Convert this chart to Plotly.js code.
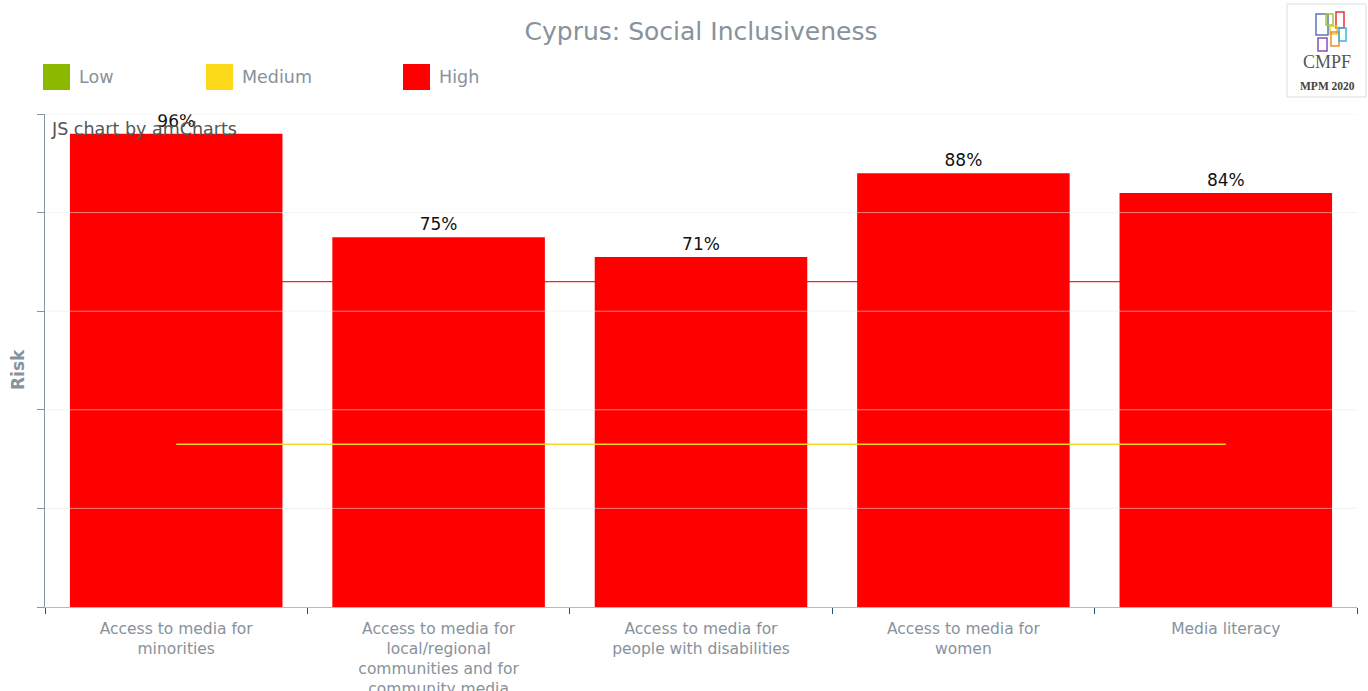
<!DOCTYPE html>
<html>
<head>
<meta charset="utf-8">
<script src="https://cdn.plot.ly/plotly-3.0.1.min.js"></script>
<style>html,body{margin:0;padding:0;background:#fff;}#chart{width:1368px;height:691px;}</style>
</head>
<body>
<div id="chart"></div>
<script>
// ---- data ----
const categories = [
  "Access to media for<br>minorities",
  "Access to media for<br>local/regional<br>communities and for<br>community media",
  "Access to media for<br>people with disabilities",
  "Access to media for<br>women",
  "Media literacy"
];
const values = [96, 75, 71, 88, 84];
const mediumThreshold = 33;
const highThreshold = 66;
const legendLabels = ["Low", "Medium", "High"];
const gridValues = [20, 40, 60, 80, 100];

// ---- styling helpers ----
const W = 1368, H = 691;
const L = 45, R = 1357, T = 114, B = 607;
const px = x => (x - L) / (R - L);
const py = y => (B - y) / (B - T);
const legendColors = ["#8cb800", "#fcda1a", "#ff0000"];
const legendX = [43, 206, 403];
const gray = "#87929c";
const font = "DejaVu Sans, Verdana, sans-serif";

const traces = [
  {
    type: "bar",
    x: categories,
    y: values,
    marker: {color: "#ff0000", line: {width: 0}},
    text: values.map(v => v + "%"),
    textposition: "outside",
    textfont: {family: font, size: 17, color: "#111"},
    cliponaxis: false,
    hoverinfo: "x+y",
    showlegend: false
  },
  {
    type: "scatter",
    mode: "lines",
    x: categories,
    y: categories.map(() => mediumThreshold),
    line: {color: "#f6d81f", width: 1.5},
    hoverinfo: "skip",
    showlegend: false
  }
];

const shapes = [];
// red threshold line behind bars
shapes.push({type: "line", layer: "below", xref: "x", yref: "y",
  x0: 0, x1: categories.length - 1, y0: highThreshold, y1: highThreshold,
  line: {color: "#ff2020", width: 1.2}});
// grid lines drawn over bars
gridValues.forEach(v => shapes.push({type: "line", layer: "above", xref: "paper", yref: "y",
  x0: 0, x1: 1, y0: v, y1: v, line: {color: "rgba(232,232,232,0.55)", width: 1}}));
// legend squares
legendLabels.forEach((lab, i) => shapes.push({type: "rect", xref: "paper", yref: "paper",
  x0: px(legendX[i]), x1: px(legendX[i] + 27), y0: py(90), y1: py(64),
  fillcolor: legendColors[i], line: {width: 0}}));
// logo box
shapes.push({type: "rect", xref: "paper", yref: "paper",
  x0: px(1287), x1: px(1366), y0: py(97), y1: py(4),
  fillcolor: "#ffffff", line: {color: "#dddddd", width: 1}});
const logoBits = [
  [1316, 1328, 14, 35, "#5a78b0"],
  [1326, 1333, 14, 25, "#9ccc40"],
  [1336, 1344, 12, 28, "#e8303a"],
  [1330, 1337, 26, 34, "#f2c81a"],
  [1318, 1327, 38, 51, "#8a4cc0"],
  [1331, 1339, 32, 46, "#f08a30"],
  [1339, 1346, 28, 41, "#30b8e8"]
];
logoBits.forEach(b => shapes.push({type: "rect", xref: "paper", yref: "paper",
  x0: px(b[0]), x1: px(b[1]), y0: py(b[3]), y1: py(b[2]),
  fillcolor: "rgba(0,0,0,0)", line: {color: b[4], width: 1.5}}));

const annotations = [];
legendLabels.forEach((lab, i) => annotations.push({xref: "paper", yref: "paper",
  x: px(legendX[i] + 34), y: py(77), xanchor: "left", yanchor: "middle",
  text: lab, showarrow: false, font: {family: font, size: 17.5, color: gray}}));
annotations.push({xref: "paper", yref: "paper", x: px(18), y: py(370),
  text: "<b>Risk</b>", textangle: -90, showarrow: false,
  xanchor: "center", yanchor: "middle", font: {family: font, size: 17, color: gray}});
annotations.push({xref: "paper", yref: "paper", x: px(49), y: py(129),
  text: "JS chart by amCharts", showarrow: false, xanchor: "left", yanchor: "middle",
  font: {family: font, size: 17.5, color: "#555"}});
annotations.push({xref: "paper", yref: "paper", x: px(1327), y: py(62),
  text: "CMPF", showarrow: false, xanchor: "center", yanchor: "middle",
  font: {family: "Liberation Serif, serif", size: 18, color: "#555"}});
annotations.push({xref: "paper", yref: "paper", x: px(1327), y: py(86),
  text: "<b>MPM 2020</b>", showarrow: false, xanchor: "center", yanchor: "middle",
  font: {family: "Liberation Serif, serif", size: 11.5, color: "#444"}});

const layout = {
  width: W, height: H,
  margin: {l: L, r: W - R, t: T, b: H - B, pad: 0},
  paper_bgcolor: "#fff", plot_bgcolor: "#fff",
  title: {text: "Cyprus: Social Inclusiveness", xref: "paper", x: 0.5, xanchor: "center",
    yref: "container", y: 1 - 31 / H, yanchor: "middle",
    font: {family: font, size: 25, color: gray}},
  bargap: 0.19,
  showlegend: false,
  xaxis: {type: "category", tickson: "boundaries", ticks: "outside", ticklen: 6,
    tickcolor: "#2d4f70", tickwidth: 1, showline: true, linecolor: "#a8bccd", linewidth: 1,
    showgrid: false, ticklabelstandoff: 7,
    tickfont: {family: font, size: 15.5, color: gray}, fixedrange: true},
  yaxis: {range: [0, 100], dtick: 20, ticks: "outside", ticklen: 7, tickcolor: "#8795a0",
    showline: true, linecolor: "#8795a0", linewidth: 1, showgrid: false, zeroline: false,
    showticklabels: false, fixedrange: true},
  shapes: shapes,
  annotations: annotations
};

Plotly.newPlot("chart", traces, layout, {displayModeBar: false, staticPlot: true});
</script>
</body>
</html>
